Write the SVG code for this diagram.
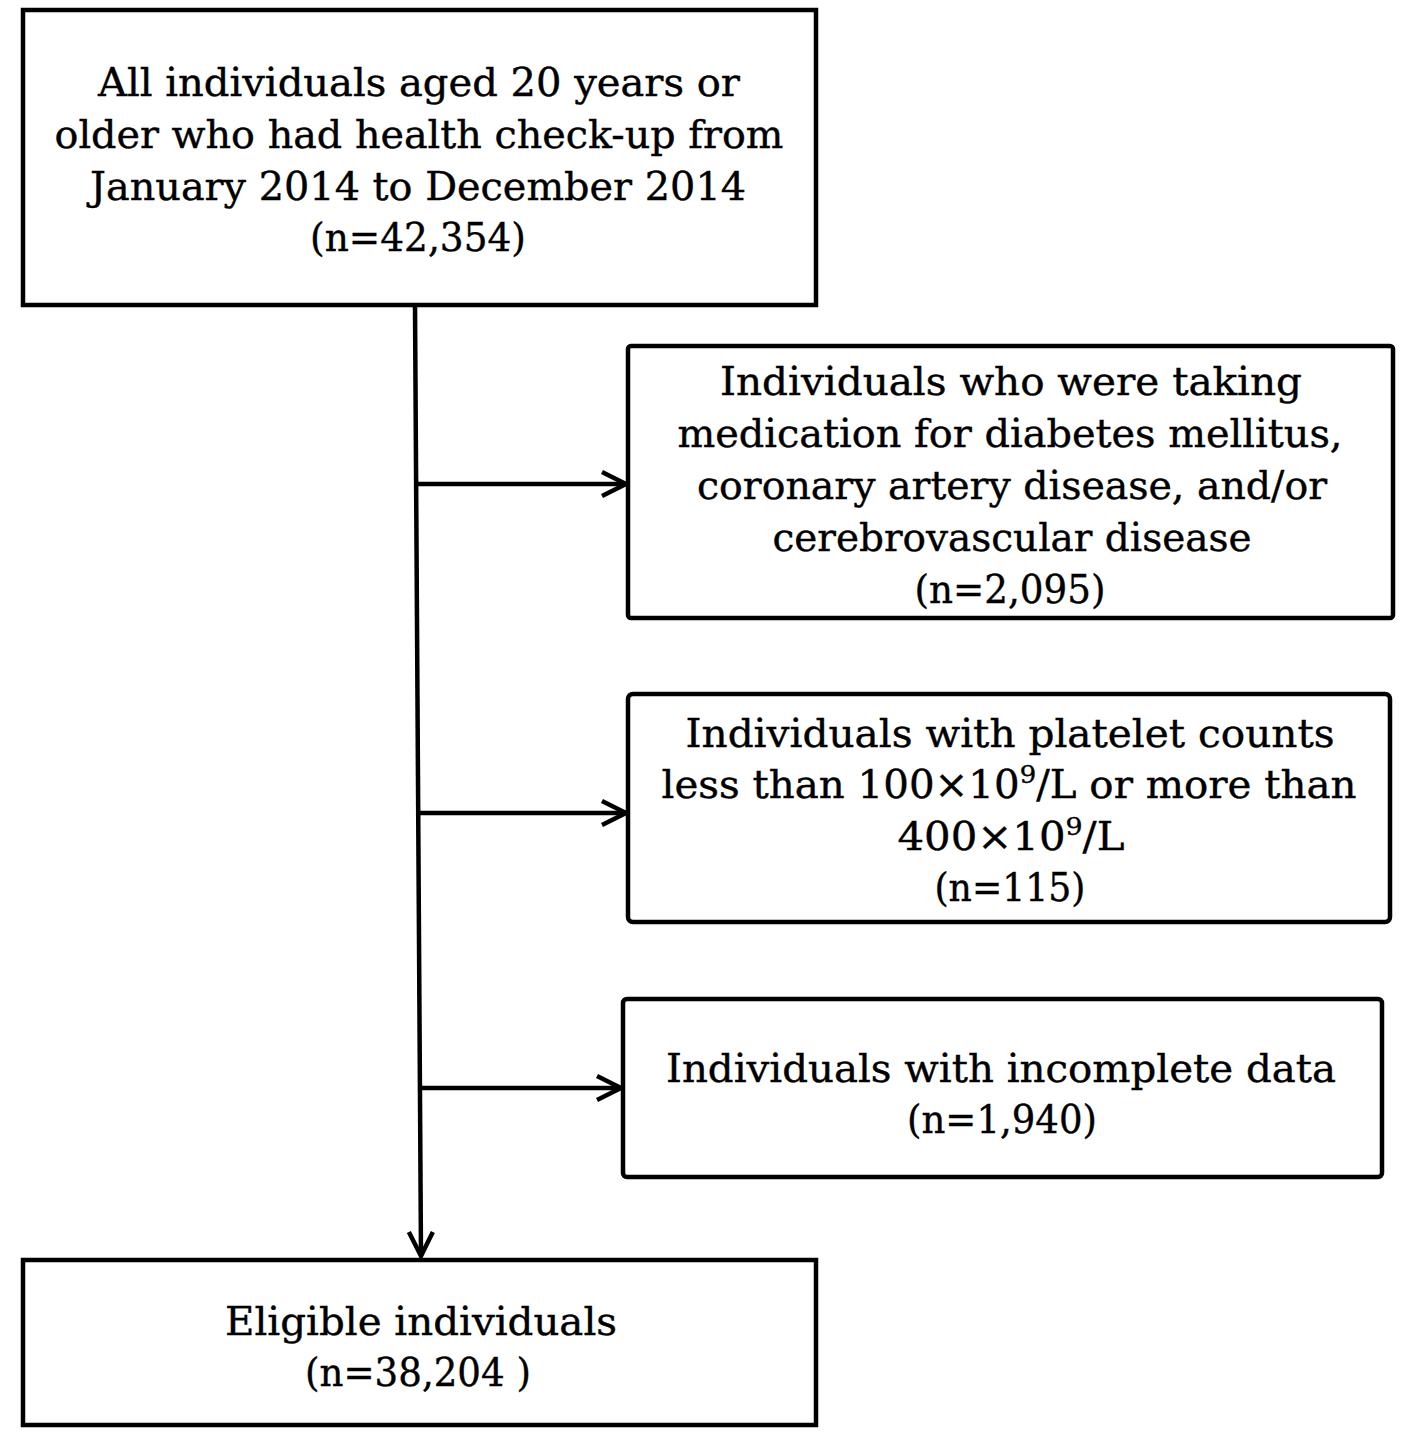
<svg xmlns="http://www.w3.org/2000/svg" width="1417" height="1450" viewBox="0 0 1417 1450">
<defs>
<style>
.box{fill:#fff;stroke:#000;stroke-width:4.5}
.t{font-family:"DejaVu Serif","Liberation Serif",serif;font-size:39px;fill:#000;text-anchor:middle;stroke:#000;stroke-width:0.4}
.c{fill:none;stroke:#000;stroke-width:4.5}
</style>
<marker id="arr" viewBox="0 0 30 30" refX="27" refY="15" markerWidth="30" markerHeight="30" markerUnits="userSpaceOnUse" orient="auto">
<path d="M3,3 L27,15 L3,27" fill="none" stroke="#000" stroke-width="4.5" stroke-linejoin="miter"/>
</marker>
</defs>
<rect width="1417" height="1450" fill="#fff"/>
<g id="connectors">
<line class="c" x1="415" y1="305" x2="421" y2="1256" marker-end="url(#arr)"/>
<line class="c" x1="414" y1="484" x2="626" y2="484" marker-end="url(#arr)"/>
<line class="c" x1="418" y1="813" x2="626" y2="813" marker-end="url(#arr)"/>
<line class="c" x1="420" y1="1088" x2="621" y2="1088" marker-end="url(#arr)"/>
</g>
<g id="n1">
<rect class="box" x="23" y="10" width="793" height="295"/>
<text class="t" x="419" y="96" textLength="642" lengthAdjust="spacingAndGlyphs">All individuals aged 20 years or</text>
<text class="t" x="419" y="148" textLength="729" lengthAdjust="spacingAndGlyphs">older who had health check-up from</text>
<text class="t" x="418" y="200" textLength="656" lengthAdjust="spacingAndGlyphs">January 2014 to December 2014</text>
<text class="t" x="418" y="251" textLength="216" lengthAdjust="spacingAndGlyphs">(n=42,354)</text>
</g>
<g id="n2">
<rect class="box" x="628" y="346" width="765" height="272" rx="3"/>
<text class="t" x="1011" y="395" textLength="582" lengthAdjust="spacingAndGlyphs">Individuals who were taking</text>
<text class="t" x="1010" y="447" textLength="665" lengthAdjust="spacingAndGlyphs">medication for diabetes mellitus,</text>
<text class="t" x="1012" y="499" textLength="630" lengthAdjust="spacingAndGlyphs">coronary artery disease, and/or</text>
<text class="t" x="1012" y="551" textLength="479" lengthAdjust="spacingAndGlyphs">cerebrovascular disease</text>
<text class="t" x="1010" y="603" textLength="191" lengthAdjust="spacingAndGlyphs">(n=2,095)</text>
</g>
<g id="n3">
<rect class="box" x="628" y="694" width="762" height="228" rx="5"/>
<text class="t" x="1010" y="747" textLength="649" lengthAdjust="spacingAndGlyphs">Individuals with platelet counts</text>
<text class="t" x="1009" y="798" textLength="695" lengthAdjust="spacingAndGlyphs">less than 100×10<tspan font-size="25" dy="-15">9</tspan><tspan dy="15">/L or more than</tspan></text>
<text class="t" x="1011" y="850" textLength="227" lengthAdjust="spacingAndGlyphs">400×10<tspan font-size="25" dy="-15">9</tspan><tspan dy="15">/L</tspan></text>
<text class="t" x="1010" y="901" textLength="151" lengthAdjust="spacingAndGlyphs">(n=115)</text>
</g>
<g id="n4">
<rect class="box" x="623" y="999" width="759" height="178" rx="4"/>
<text class="t" x="1001" y="1082" textLength="670" lengthAdjust="spacingAndGlyphs">Individuals with incomplete data</text>
<text class="t" x="1002" y="1133" textLength="190" lengthAdjust="spacingAndGlyphs">(n=1,940)</text>
</g>
<g id="n5">
<rect class="box" x="23" y="1260" width="793" height="165"/>
<text class="t" x="421" y="1335" textLength="392" lengthAdjust="spacingAndGlyphs">Eligible individuals</text>
<text class="t" x="418" y="1386" textLength="226" lengthAdjust="spacingAndGlyphs">(n=38,204 )</text>
</g>
</svg>
